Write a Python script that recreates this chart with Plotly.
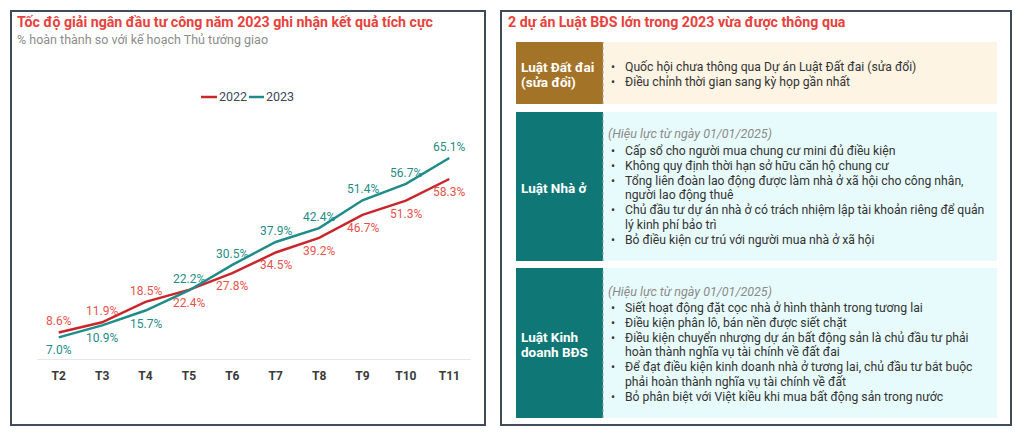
import plotly.graph_objects as go

W, H = 1024, 432

months = ["T2", "T3", "T4", "T5", "T6", "T7", "T8", "T9", "T10", "T11"]
y2022 = [8.6, 11.9, 18.5, 22.4, 27.8, 34.5, 39.2, 46.7, 51.3, 58.3]
y2023 = [7.0, 10.9, 15.7, 22.2, 30.5, 37.9, 42.4, 51.4, 56.7, 65.1]
above2022 = [True] * 3 + [False] * 7
above2023 = [False] * 3 + [True] * 7

left_title = "Tốc độ giải ngân đầu tư công năm 2023 ghi nhận kết quả tích cực"
left_subtitle = "% hoàn thành so với kế hoạch Thủ tướng giao"
right_title = "2 dự án Luật BĐS lớn trong 2023 vừa được thông qua"

box1_label = ["Luật Đất đai", "(sửa đổi)"]
box1_note = None
box1_lines = [("•", "Quốc hội chưa thông qua Dự án Luật Đất đai (sửa đổi)"),
              ("•", "Điều chỉnh thời gian sang kỳ họp gần nhất")]

box2_label = ["Luật Nhà ở"]
box2_note = "(Hiệu lực từ ngày 01/01/2025)"
box2_lines = [("•", "Cấp sổ cho người mua chung cư mini đủ điều kiện"),
              ("•", "Không quy định thời hạn sở hữu căn hộ chung cư"),
              ("•", "Tổng liên đoàn lao động được làm nhà ở xã hội cho công nhân,"),
              ("", "người lao động thuê"),
              ("•", "Chủ đầu tư dự án nhà ở có trách nhiệm lập tài khoản riêng để quản"),
              ("", "lý kinh phí bảo trì"),
              ("•", "Bỏ điều kiện cư trú với người mua nhà ở xã hội")]

box3_label = ["Luật Kinh", "doanh BĐS"]
box3_note = "(Hiệu lực từ ngày 01/01/2025)"
box3_lines = [("•", "Siết hoạt động đặt cọc nhà ở hình thành trong tương lai"),
              ("•", "Điều kiện phân lô, bán nền được siết chặt"),
              ("•", "Điều kiện chuyển nhượng dự án bất động sản là chủ đầu tư phải"),
              ("", "hoàn thành nghĩa vụ tài chính về đất đai"),
              ("•", "Để đạt điều kiện kinh doanh nhà ở tương lai, chủ đầu tư bắt buộc"),
              ("", "phải hoàn thành nghĩa vụ tài chính về đất"),
              ("•", "Bỏ phân biệt với Việt kiều khi mua bất động sản trong nước")]

RED_LINE = "#c8262b"
RED_TXT = "#e8524c"
TEAL = "#1f8c8a"
FONT = "Roboto"


def px(x):
    return x / W


def py(y):
    return 1 - y / H


def note(x, y, text, anchor="left", **font):
    return dict(x=px(x), y=py(y), xref="paper", yref="paper", text=text, showarrow=False,
                xanchor=anchor, yanchor="middle", font=dict(family=FONT, **font))


fig = go.Figure()
fig.add_trace(go.Scatter(x=months, y=y2022, name="2022", mode="lines",
                         line=dict(color=RED_LINE, width=2.5), showlegend=False))
fig.add_trace(go.Scatter(x=months, y=y2023, name="2023", mode="lines",
                         line=dict(color=TEAL, width=2.5), showlegend=False))

shapes = []
ann = []

# data labels through the axes
for vals, above, col in [(y2022, above2022, RED_TXT), (y2023, above2023, TEAL)]:
    for m, v, a in zip(months, vals, above):
        ann.append(dict(x=m, y=v, xref="x", yref="y", text=f"{v:.1f}%", showarrow=False,
                        xanchor="center", yanchor="middle", yshift=11 if a else -13,
                        font=dict(family=FONT, size=12, color=col)))

# Panel borders
shapes.append(dict(type="rect", xref="paper", yref="paper", x0=px(11), x1=px(485), y0=py(425), y1=py(11),
                   line=dict(color="#3f4b5b", width=2), fillcolor="rgba(0,0,0,0)", layer="below"))
shapes.append(dict(type="rect", xref="paper", yref="paper", x0=px(501), x1=px(1011), y0=py(425), y1=py(11),
                   line=dict(color="#3f4b5b", width=2), fillcolor="rgba(0,0,0,0)", layer="below"))

ann.append(note(15, 22, f"<b>{left_title}</b>", size=14.2, color="#e8413c"))
ann.append(note(15, 39, left_subtitle, size=12.5, color="#8c8c8c"))
ann.append(note(506, 22, f"<b>{right_title}</b>", size=14.2, color="#e8413c"))

# custom compact legend
for (x0, x1, col, name) in [(201, 217, RED_LINE, "2022"), (249, 264, TEAL, "2023")]:
    shapes.append(dict(type="line", xref="paper", yref="paper", x0=px(x0), x1=px(x1), y0=py(97), y1=py(97),
                       line=dict(color=col, width=2.5)))
    ann.append(note(x1, 97, name, size=12.5, color="#404859"))

boxes = [
    (42, 104, "#a37327", "#fdf4e3", box1_label, box1_note, box1_lines, [67, 82], 67, 15),
    (112, 261, "#0f7876", "#e8fbfc", box2_label, box2_note, box2_lines, [188], 151, 14.8),
    (268, 418, "#0f7876", "#e8fbfc", box3_label, box3_note, box3_lines, [337, 352], 308, 14.8),
]
for (top, bot, lab_col, cont_col, labels, nt, lines, lab_ys, first_y, step) in boxes:
    shapes.append(dict(type="rect", xref="paper", yref="paper", x0=px(516), x1=px(603), y0=py(bot), y1=py(top),
                       line=dict(width=0), fillcolor=lab_col, layer="below"))
    shapes.append(dict(type="rect", xref="paper", yref="paper", x0=px(603), x1=px(997), y0=py(bot), y1=py(top),
                       line=dict(width=0), fillcolor=cont_col, layer="below"))
    shapes.append(dict(type="line", xref="paper", yref="paper", x0=px(603), x1=px(603), y0=py(bot), y1=py(top),
                       line=dict(color="#9aa3a3", width=1, dash="dot"), layer="below"))
    for lab, ly in zip(labels, lab_ys):
        ann.append(note(519, ly, f"<b>{lab}</b>", size=13.5, color="white"))
    if nt:
        ann.append(note(606, first_y - 17, f"<i>{nt}</i>", size=12.5, color="#8a8a8a"))
    for i, (b, t) in enumerate(lines):
        yy = first_y + i * step
        if b:
            ann.append(note(609, yy, b, size=12, color="#333333"))
        ann.append(note(623, yy, t, size=12.2, color="#333333"))

fig.update_layout(
    width=W, height=H, margin=dict(l=0, r=0, t=0, b=0),
    paper_bgcolor="white", plot_bgcolor="white",
    font=dict(family=FONT, color="#404040"),
    shapes=shapes, annotations=ann,
    showlegend=False,
    xaxis=dict(domain=[px(37), px(471)], range=[-0.5, 9.5], showgrid=False, zeroline=False,
               showline=False, ticks="", tickfont=dict(family=FONT, size=12, color="#3a3a3a"),
               ticklabelstandoff=8, fixedrange=True),
    yaxis=dict(domain=[py(359), py(112)], range=[0, 80], showgrid=False, zeroline=True,
               zerolinecolor="#e6e6e6", zerolinewidth=1, showticklabels=False, ticks="",
               fixedrange=True),
)
fig.update_xaxes(tickprefix="<b>", ticksuffix="</b>")

fig.write_html("out.html", config={"displayModeBar": False},
               post_script="document.body.style.margin='0';document.body.style.padding='0';")
